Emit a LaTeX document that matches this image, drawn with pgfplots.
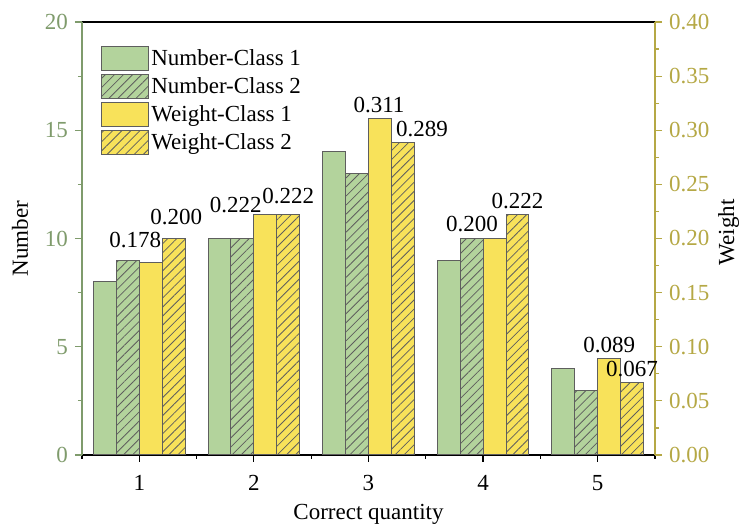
\documentclass[border=0pt]{standalone}
\usepackage{pgfplots}
\usepackage{pgfplotstable}
\pgfplotsset{compat=1.18}
\usetikzlibrary{patterns.meta}
\usepackage{fontspec}
\setmainfont{Liberation Serif}
\definecolor{gfill}{HTML}{B3D39C}
\definecolor{yfill}{HTML}{F8E25A}
\definecolor{gaxis}{HTML}{7F9B6C}
\definecolor{yaxis}{HTML}{B5A845}
\definecolor{bedge}{HTML}{5E5E5E}
\pgfkeys{/pgf/number format/assume math mode=true}

\pgfplotstableread{
x n1 n2
1 8 9
2 10 10
3 14 13
4 9 10
5 4 3
}\numtab
\pgfplotstableread{
x w1 dxa dya w2 dxb dyb
1 0.178 -2.02 7 0.200 18.44 6.5
2 0.222 -9.02 0.5 0.222 17.19 5
3 0.311 5.23 2.5 0.289 26.69 2.5
4 0.200 -5.52 3 0.222 17.19 2.5
5 0.089 5.73 2.5 0.067 17.19 2.5
}\wtab

\tikzset{
  hatch/.style={postaction={pattern={Lines[angle=45,distance=3.2pt,line width=0.4pt]},pattern color=bedge}},
  barA/.style={color=bedge,fill=gfill,draw=bedge,line width=0.5pt},
  barB/.style={color=bedge,fill=gfill,draw=bedge,line width=0.5pt,hatch},
  barC/.style={color=bedge,fill=yfill,draw=bedge,line width=0.5pt},
  barD/.style={color=bedge,fill=yfill,draw=bedge,line width=0.5pt,hatch},
}

\begin{document}
\begin{tikzpicture}
\begin{axis}[name=ax1,
  scale only axis, width=286.5pt, height=216.5pt,
  xmin=0.5, xmax=5.5, ymin=0, ymax=20,
  xtick={1,2,3,4,5}, minor xtick={0.5,1.5,2.5,3.5,4.5,5.5},
  ytick={0,5,10,15,20}, minor ytick={2.5,7.5,12.5,17.5},
  xtick pos=left, ytick pos=left, tick align=outside,
  major tick length=3.5pt, minor tick length=2pt,
  separate axis lines,
  x axis line style={black,line width=0.7pt},
  y axis line style={gaxis,line width=0.7pt},
  xtick style={black,line width=0.6pt},
  ytick style={gaxis,line width=0.6pt},
  xticklabel style={black,font=\fontsize{11.5}{13}\selectfont,yshift=-3pt},
  yticklabel style={gaxis,font=\fontsize{11.5}{13}\selectfont},
  xlabel={Correct quantity}, ylabel={Number},
  ylabel style={xshift=0pt,yshift=1.5pt},
  label style={font=\fontsize{11.5}{13}\selectfont},
]
\addplot[ybar, bar width=0.2, bar shift=-0.3, barA] table[x=x,y=n1]{\numtab};
\addplot[ybar, bar width=0.2, bar shift=-0.1, barB] table[x=x,y=n2]{\numtab};
\end{axis}
\begin{axis}[
  scale only axis, width=286.5pt, height=216.5pt,
  xmin=0.5, xmax=5.5, ymin=0, ymax=0.4,
  axis x line=none, axis y line*=right,
  ytick={0,0.05,0.1,0.15,0.2,0.25,0.3,0.35,0.4},
  minor ytick={0.025,0.075,0.125,0.175,0.225,0.275,0.325,0.375},
  tick align=outside, major tick length=3.5pt, minor tick length=2pt,
  y axis line style={yaxis,line width=0.7pt},
  ytick style={yaxis,line width=0.6pt},
  yticklabel style={yaxis,font=\fontsize{11.5}{13}\selectfont,
    /pgf/number format/.cd,fixed,fixed zerofill,precision=2},
  ylabel={Weight},
  ylabel style={yshift=2.5pt,xshift=3pt},
  label style={font=\fontsize{11.5}{13}\selectfont},
  legend style={at={(0.033,0.945)}, anchor=north west, draw=none, fill=none,
    inner sep=0pt, row sep=1.5pt, font=\fontsize{11.5}{13}\selectfont,
    nodes={inner sep=1pt}},
  legend cell align=left,
  legend image code/.code={\draw[#1] (0pt,-6pt) rectangle (23.5pt,6pt);},
  nodes near coords style={font=\fontsize{11.5}{13}\selectfont, black, anchor=south, inner sep=0pt},
]
\addlegendimage{barA}
\addlegendentry{Number-Class 1}
\addlegendimage{barB}
\addlegendentry{Number-Class 2}
\addplot[ybar, bar width=0.2, bar shift=0.1, barC,
  point meta=y,
  visualization depends on={\thisrow{dxa} \as \dx},
  visualization depends on={\thisrow{dya} \as \dy},
  nodes near coords={\pgfmathprintnumber[fixed,fixed zerofill,precision=3]{\pgfplotspointmeta}},
  every node near coord/.append style={xshift=\dx pt, yshift=\dy pt},
  ] table[x=x,y=w1]{\wtab};
\addlegendentry{Weight-Class 1}
\addplot[ybar, bar width=0.2, bar shift=0.3, barD,
  point meta=y,
  visualization depends on={\thisrow{dxb} \as \dx},
  visualization depends on={\thisrow{dyb} \as \dy},
  nodes near coords={\pgfmathprintnumber[fixed,fixed zerofill,precision=3]{\pgfplotspointmeta}},
  every node near coord/.append style={xshift=\dx pt, yshift=\dy pt},
  ] table[x=x,y=w2]{\wtab};
\addlegendentry{Weight-Class 2}
\end{axis}
\pgfresetboundingbox
\path ([shift={(-41pt,-34.5pt)}]ax1.south west) rectangle ([shift={(42.5pt,11pt)}]ax1.north east);
\end{tikzpicture}
\end{document}
